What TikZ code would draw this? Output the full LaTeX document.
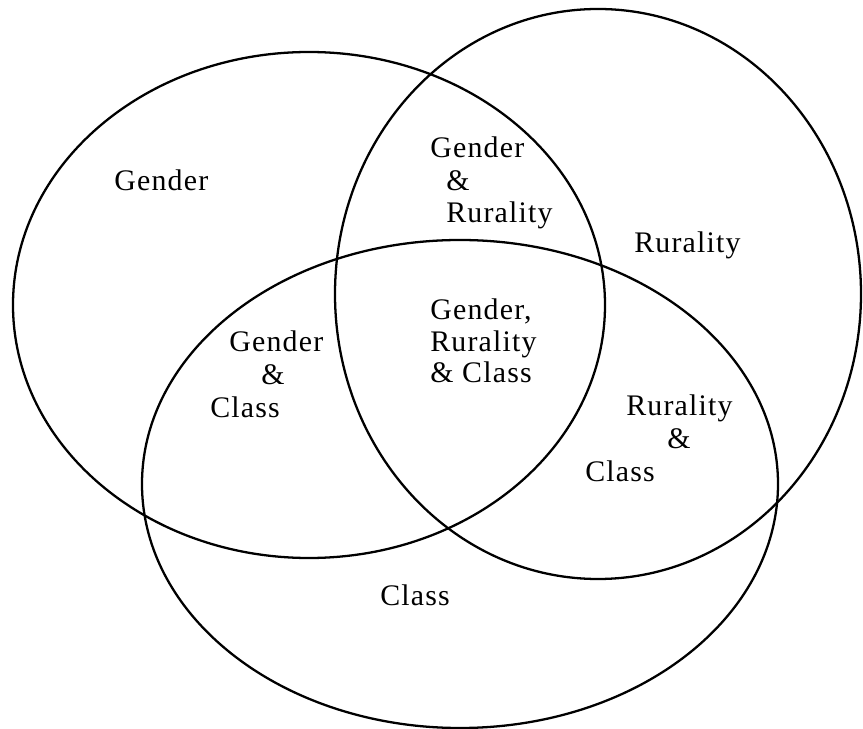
\documentclass[tikz,border=0pt]{standalone}
\usepackage{fontspec}
\setmainfont[LetterSpace=4]{Liberation Serif}
\usetikzlibrary{positioning}

\tikzset{
  setline/.style={line width=1.3pt},
  lbl/.style={anchor=base west,inner sep=0pt,font=\fontsize{17}{19}\selectfont}
}

\begin{document}
\begin{tikzpicture}[x=0.02cm,y=-0.02cm]
\useasboundingbox (0,0) rectangle (863,729);

%% the three sets
\draw[setline] (309,305) ellipse [x radius=296,y radius=253]; % gender
\draw[setline] (598,294) ellipse [x radius=263,y radius=285]; % rurality
\draw[setline] (460,484) ellipse [x radius=318,y radius=244]; % class

%% single sets
\node[lbl] (gen) at (114,191) {Gender};
\node[lbl] (rur) at (634,253) {Rurality};
\node[lbl] (cls) at (380,606) {Class};

%% gender & rurality
\node[lbl] (gr1) at (430,158) {Gender};
\node[lbl] (gr2) at (446,191) {\&};
\node[lbl] (gr3) at (446,223) {Rurality};

%% all three
\node[lbl] (grc1) at (430,320) {Gender,};
\node[lbl] (grc2) at (430,352) {Rurality};
\node[lbl] (grc3) at (430,383) {\& Class};

%% gender & class
\node[lbl] (gc1) at (229,352) {Gender};
\node[lbl] (gc2) at (261,385) {\&};
\node[lbl] (gc3) at (210,418) {Class};

%% rurality & class
\node[lbl] (rc1) at (626,416) {Rurality};
\node[lbl] (rc2) at (667,449) {\&};
\node[lbl] (rc3) at (585,482) {Class};

\end{tikzpicture}
\end{document}
